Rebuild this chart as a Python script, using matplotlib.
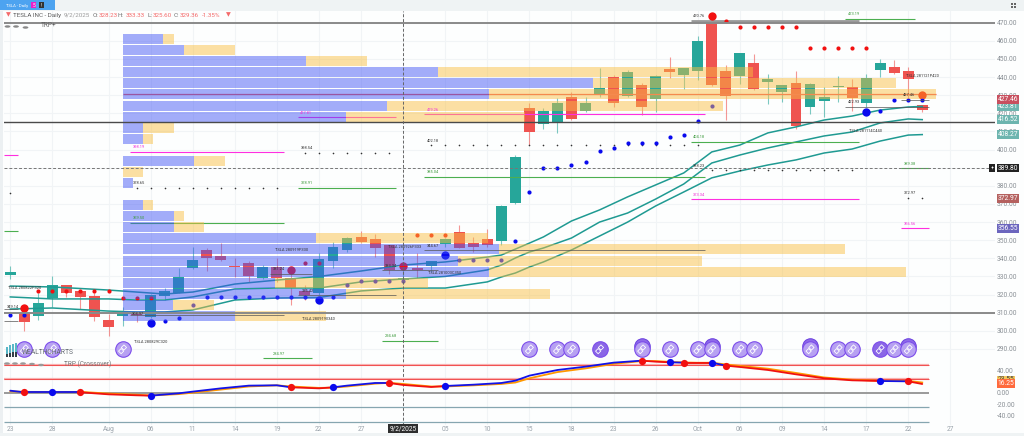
import matplotlib
matplotlib.use("Agg")
import matplotlib.pyplot as plt
from matplotlib.patches import Rectangle, Circle

plt.rcParams['font.family'] = ['Roboto', 'DejaVu Sans']

# ---------- candles (trading-day index = list position)
opens = [330.6,310.0,308.3,317.9,325.1,321.8,319.4,306.0,308.3,309.3,307.6,319.2,321.0,334.5,344.6,341.3,335.8,337.2,329.3,335.4,329.0,322.0,321.0,338.7,
         344.6,351.6,350.7,347.2,328.23,334.8,335.8,347.7,354.3,348.3,350.7,349.7,370.7,423.1,414.1,415.4,428.8,421.5,430.8,439.9,429.5,435.4,428.1,444.4,441.1,443.5,
         471.1,443.3,440.6,447.8,437.3,431.6,436.5,423.3,426.6,434.5,434.5,425.5,443.7,445.7,443.5,424.4]
highs = [335.8,312.4,321.0,330.2,325.5,322.5,320.7,309.1,313.3,309.7,320.3,323.4,334.9,346.4,345.5,348.3,340.0,338.7,336.3,340.0,333.6,325.3,342.8,349.2,
         351.6,355.3,353.4,347.4,333.33,343.1,338.3,351.0,358.4,352.0,356.0,369.5,397.0,425.5,422.7,428.3,431.9,429.2,444.8,441.1,443.9,436.5,441.1,451.3,444.9,462.7,
         471.5,446.7,453.5,452.5,441.7,435.6,443.4,436.5,434.3,440.6,438.9,441.7,449.8,449.4,445.7,424.6]
lows = [328.4,299.9,306.0,313.0,318.5,311.9,305.6,297.3,302.7,305.1,306.9,317.0,320.7,334.1,333.0,338.7,329.9,327.1,328.4,327.1,314.2,317.0,319.8,334.5,
        343.7,348.3,340.9,331.2,325.60,329.0,332.6,346.4,345.5,343.3,346.4,347.4,370.0,402.5,411.2,409.3,416.3,420.9,429.2,423.7,429.2,419.1,420.9,439.3,433.2,438.4,
        435.1,416.3,436.2,432.9,425.1,426.4,411.2,419.6,417.8,426.0,421.3,423.7,440.2,441.7,427.3,420.7]
closes = [332.3,305.1,315.5,325.1,321.0,318.5,307.8,302.3,310.0,308.7,319.8,322.0,329.5,338.9,340.4,339.1,335.0,330.2,335.0,329.0,323.4,319.6,339.8,346.4,
          351.4,349.2,345.9,333.6,329.36,333.6,338.3,350.7,345.9,346.4,347.4,368.9,395.7,409.9,421.5,425.9,416.7,425.9,434.2,425.9,443.0,423.3,440.4,443.0,444.8,459.7,
          435.6,429.5,453.5,433.2,438.8,435.6,413.2,436.0,429.2,435.1,428.3,439.3,447.6,442.4,438.8,422.0]

tick_idx = [0,3,7,10,13,16,19,22,25,28,31,34,37,40,43,46,49,52,55,58,61,64,67]
tick_lab = ['23','28','Aug','06','11','14','19','22','27','','05','10','15','18','23','26','Oct','06','09','14','17','22','27']
price_ticks = list(range(290, 480, 10))

# ---------- moving averages
ma_x = [0,3,7,9,11,13,16,19,22,25,28,31,34,35,36,37,38,40,42,44,46,48,50,52,54,56,58,60,62,64,65]
ma_a = [324.7,324.2,322.5,321.4,320.3,321.4,325.8,328,330,333,336.3,338,340.7,341.8,345.1,348.4,351.8,360.6,366.7,373.9,380.5,387.1,398.7,402.5,409.2,412.5,416.3,418.5,421.8,423.5,423.81]
ma_b = [318.7,317.6,317.6,317,317,318.7,323.1,323.6,323.6,327,328.6,330,333.6,336.3,340.2,343.5,345.7,351.2,360,365,372.7,381,392.6,397,400.9,404.2,407.5,409.7,414.7,416.9,416.52]
ma_c = [312,312.6,310.9,310.4,310.4,311.5,317,318.1,318.4,322,323.6,323.6,327,329.7,331.9,335.2,338,344.6,352.3,360,368.9,376.6,384.4,388.2,391.5,394.3,398.1,400.3,404.7,408,408.27]

# ---------- volume profile
vp_price = [461.0,454.9,448.8,442.7,436.5,430.4,424.3,418.2,412.1,406.0,399.9,393.8,387.6,381.5,375.4,369.3,363.2,357.1,351.0,344.9,338.7,332.6,326.5,320.4,314.3,308.2]
vp_blue = [40,61,183,315,470,366,264,223,20,20,0,71,0,10,0,20,51,51,193,376,335,366,152,223,50,112]
vp_total = [51,112,244,630,773,813,600,402,51,30,0,102,20,10,0,30,61,81,365,722,579,783,305,427,91,203]

# ---------- dots
red_x = [2,3,4,5,6,7,8,9,10,21,22,29,30,31,51,52,53,54,55,56,57,58,59,60,61]
red_y = [322,322,322,322,322,322,318,318,318,337.3,337.3,353,353,353,471.1,467.6,467.6,467.6,467.6,467.6,455.9,455.9,455.9,455.9,455.9]
bigred_x = [1,20,28,50,65]
bigred_y = [312.8,333.6,336,473.7,430]
blue_x = [0,1,11,12,13,14,15,16,17,18,19,20,21,23,24,25,26,27,28,32,33,34,35,36,37,38,39,40,41,42,43,44,45,46,47,48,49,50,62,63,64,65]
blue_y = [308.7,308.7,305.4,307.2,314.4,318.5,318.5,318.5,318.5,318.5,318.5,318.5,318.5,318.8,325.3,327.3,327.3,327.3,327.3,339,339,339,339,349.6,376.4,389.8,389.8,391.5,393,399,401,403.8,403.8,403.8,407,408,415.8,424.2,421.5,427.2,427.2,427.2]
bigblue_x = [10,22,31,61]
bigblue_y = [304.2,317,342,420.9]
black_x = [0,9,10,11,12,13,14,15,16,17,18,19,21,22,23,24,25,26,27,30,31,32,33,34,35,36,37,38,39,40,41,42,43,44,45,46,47,48,49,50,51,52,53,54,55,56,57,58,59,60,64,65]
black_y = [375.9]+[379]*11+[398.3]*7+[402.4]*20+[388.5]*11+[373.3]*2

# ---------- short level lines: start, end, price
magenta_lines = [(-.45,.55,397),(8.5,19.5,398.9),(20.5,27.5,417.8),(29.5,49.5,419.5),(48.5,60.5,372.6),(63.5,65.5,356.6)]
green_lines = [(-.45,.55,355.3),(20.5,27.5,379),(8.5,19.5,359.3),(29.5,49.5,385),(48.5,60.5,404.2),(59.5,64.5,472.2),(63.5,65.5,389.7),(18,21.5,285),(26.5,30.5,294.4)]
dark_lines = [(8.5,19.5,308.9),(20.5,27.5,319.8),(26.5,30.5,333.4),(29.5,49.5,344.6),(18.5,21.5,331.2),(59.5,65.5,423.7),(63.5,65.5,427.5),(-.45,.55,305.6),(-.45,.55,312)]

# ---------- icons row
icon_x = [1,3,8,37,39,40,42,45,47,49,50,52,53,57,59,60,62,63,64]
icon_double = [45,50,57,64]
icon_dark = [42,62]

# ---------- oscillator
osc_x = [0,1,3,5,7,9,10,12,13,15,17,19,20,22,23,24,26,27,28,30,31,33,35,36,37,39,41,43,45,46,47,48,49,50,51,52,54,56,58,60,62,64,65]
osc_main = [3.6,.7,.7,.7,-2.9,-4.6,-5.2,-1.1,1.9,7.7,12.5,13.1,9.5,7.7,9.5,12.5,17.2,17.2,13.7,10.1,11.9,14.2,17.2,21.3,30.2,40.2,46.1,53.2,56.7,54.9,53.8,53.2,53.2,53.2,47.9,45.5,40.2,32.5,25.5,21.9,20.7,20.1,15.4]
osc_sig = [2.5,1.5,1,1.5,-1.5,-3.5,-5,-2.5,0,5.5,11,13,11,8.5,9,11,16,17.5,15.5,11,11,13,15.5,18,25.5,36.5,43,51,56,56,54.5,53.5,53,53,50,47.5,42.5,35,27,23,21,21,18]
osc_blue_dots = [3,10,23,31,47,50,62]
osc_red_dots = [1,5,20,27,45,48,51,64]
osc_levels_red = [49,23.7]
osc_levels_grey = [-26,-51]

# ---------- price tags
tags = [(423.81,'423.81','#6DB5AF'),(427.46,'427.46','#C8505F'),(416.52,'416.52','#6DB5AF'),(408.27,'408.27','#6DB5AF'),
        (389.80,'389.80','#222222'),(372.97,'372.97','#B5615F'),(356.55,'356.55','#6C66BE')]

W, H = 1024, 436
PAD_L, PAD_R, PAD_T, PAD_B = 4, 995, 11, 425
X0, DX = 10.3, 14.03
Y470, PPU = 22.7, 1.8125
O0, OPU = 392.7, 0.565

fig = plt.figure(figsize=(W/100, H/100), dpi=100, facecolor='#FDFEFE')

def fig_rect(x0, y0, x1, y1, color, **kw):
    fig.add_artist(Rectangle((x0/W, 1-y1/H), (x1-x0)/W, (y1-y0)/H, transform=fig.transFigure, facecolor=color, edgecolor='none', **kw))

def ftext(x, y, s, color='#444444', size=2.9, **kw):
    fig.text(x/W, 1-y/H, s, color=color, fontsize=size, va='center', **kw)

pos = [PAD_L/W, 1-PAD_B/H, (PAD_R-PAD_L)/W, (PAD_B-PAD_T)/H]
ax = fig.add_axes(pos)
ax.set_facecolor('none')
ax.set_xlim((PAD_L-X0)/DX, (PAD_R-X0)/DX)
ax.set_ylim(470-(PAD_B-Y470)/PPU, 470-(PAD_T-Y470)/PPU)
for s in ax.spines.values():
    s.set_visible(False)
ax.set_xticks(tick_idx)
ax.set_xticklabels(tick_lab)
ax.set_yticks(price_ticks)
ax.set_yticklabels([f'{p:.2f}' for p in price_ticks])
ax.yaxis.tick_right()
ax.tick_params(axis='x', length=0, pad=0.6, labelsize=4.8, labelcolor='#9AA3AB')
ax.tick_params(axis='y', length=0, pad=1.5, labelsize=4.9, labelcolor='#8A9096')
ax.grid(True, color='#F1F4F6', lw=0.8)
ax.set_axisbelow(True)

# candles
TEAL, RED = '#26A69A', '#EF5350'
for i, (o, h, l, c) in enumerate(zip(opens, highs, lows, closes)):
    col = TEAL if c >= o else RED
    ax.vlines(i, l, h, color=col, lw=0.8, alpha=0.6, zorder=2)
    ax.bar(i, abs(c-o), bottom=min(o, c), width=0.78, color=col, zorder=2.1)

# averages
for ma in (ma_a, ma_b, ma_c):
    ax.plot(ma_x, ma, color='#1F9A92', lw=1.1, zorder=2.3)

# short levels
for a, b, p in magenta_lines:
    ax.hlines(p, a, b, color='#FF2FE0', lw=0.8, zorder=2.4)
for a, b, p in green_lines:
    ax.hlines(p, a, b, color='#4CAF50', lw=0.8, zorder=2.4)
ax.hlines(470.8, 48.5, 60.5, color='#999999', lw=2, zorder=2.4)
for a, b, p in dark_lines:
    ax.hlines(p, a, b, color='#555555', lw=0.5, zorder=5)
ax.hlines(430.5, 8.03, 65.95, color='#F05A5A', lw=0.9, zorder=2.4)

# dots
ax.scatter(black_x, black_y, s=1.4, color='#333333', zorder=3, lw=0)
ax.scatter(red_x, red_y, s=9, color='#F21010', zorder=3, lw=0)
ax.scatter(bigred_x, bigred_y, s=36, color='#F21010', zorder=3, lw=0)
ax.scatter(blue_x, blue_y, s=9, color='#0A0AEE', zorder=3, lw=0)
ax.scatter(bigblue_x, bigblue_y, s=36, color='#0A0AEE', zorder=3, lw=0)

# volume profile, on top with transparency
vp_left = (123-X0)/DX
for p, b, t in zip(vp_price, vp_blue, vp_total):
    if b:
        ax.barh(p, b/DX, left=vp_left, height=5.5, color='#3D51F5', alpha=0.47, lw=0, zorder=4)
    if t > b:
        ax.barh(p, (t-b)/DX, left=vp_left+b/DX, height=5.5, color='#F9BF41', alpha=0.48, lw=0, zorder=4)

# heavy horizontal levels
ax.axhline(470, color='#8A8A8A', lw=1.4, zorder=5)
ax.axhline(415.1, color='#4A4A4A', lw=1.0, zorder=5)
ax.axhline(310, color='#8A8A8A', lw=1.4, zorder=5)

# crosshair
ax.axhline(389.8, color='#777777', lw=0.7, ls=(0, (3, 2)), zorder=6)
ax.axvline(28, color='#666666', lw=0.7, ls=(0, (3, 2)), zorder=6)

# icons row
icon_price = 289.8
for i in icon_x:
    if i in icon_double:
        ax.scatter(i, icon_price+1.6, s=125, color='#8E6AE8', edgecolor='#6A3FE0', lw=0.7, zorder=7)
    face = '#8A66E6' if i in icon_dark else '#B7A1F2'
    ax.scatter(i, icon_price, s=125, color=face, edgecolor='#7C4DEB', lw=0.8, zorder=7.1)
    ax.scatter(i-0.10, icon_price-1, s=7, marker='D', facecolor='none', edgecolor='white', lw=0.6, zorder=7.2)
    ax.scatter(i+0.10, icon_price+1, s=7, marker='D', facecolor='none', edgecolor='white', lw=0.6, zorder=7.2)

# tags on the price scale
for p, s, col in tags:
    ax.text(1.0025, p, s, transform=ax.get_yaxis_transform(), fontsize=4.9, color='white', va='center', ha='left', zorder=10, clip_on=False,
            bbox=dict(boxstyle='square,pad=0.12', facecolor=col, edgecolor='none'))

# oscillator pane
axo = fig.add_axes(pos, sharex=ax)
axo.set_facecolor('none')
axo.set_ylim((O0-PAD_B)/OPU, (O0-PAD_T)/OPU)
for s in axo.spines.values():
    s.set_visible(False)
axo.set_yticks([40, 0, -20, -40])
axo.set_yticklabels(['40.00', '0.00', '-20.00', '-40.00'])
axo.yaxis.tick_right()
axo.tick_params(axis='y', length=0, pad=1.5, labelsize=4.9, labelcolor='#8A9096')
axo.tick_params(axis='x', length=0, labelbottom=False)
for v in osc_levels_red:
    axo.hlines(v, -0.45, 65.5, color='#F8B0B0', lw=1.6, zorder=1)
    axo.hlines(v, -0.45, 65.5, color='#F04040', lw=0.6, zorder=1.1)
axo.hlines(0, -0.45, 65.5, color='#9A9A9A', lw=1.4, zorder=1)
for v in osc_levels_grey:
    axo.hlines(v, -0.45, 65.5, color='#86A6B0', lw=0.9, zorder=1)
axo.plot(osc_x, osc_sig, color='#FF9800', lw=1.3, zorder=2)
switches = [(0,1,'b'),(1,3,'b'),(3,5,'b'),(5,10,'r'),(10,20,'b'),(20,23,'r'),(23,27,'b'),(27,31,'r'),(31,45,'b'),(45,47,'r'),(47,48,'b'),(48,50,'r'),(50,51,'b'),(51,62,'r'),(62,64,'b'),(64,65,'r')]
for a, b, c in switches:
    xs = [x for x in osc_x if a <= x <= b]
    ys = [osc_main[osc_x.index(x)] for x in xs]
    axo.plot(xs, ys, color='#1212E8' if c == 'b' else '#F01010', lw=1.3, zorder=3, solid_capstyle='round')
axo.scatter(osc_blue_dots, [osc_main[osc_x.index(i)] for i in osc_blue_dots], s=27, color='#0A0AEE', lw=0, zorder=4)
axo.scatter(osc_red_dots, [osc_main[osc_x.index(i)] for i in osc_red_dots], s=27, color='#F21010', lw=0, zorder=4)
axo.text(1.0025, 22.5, '23.55', transform=axo.get_yaxis_transform(), fontsize=4.9, color='#444444', va='center', ha='left', clip_on=False, zorder=9,
         bbox=dict(boxstyle='square,pad=0.12', facecolor='#F6C75A', edgecolor='none'))
axo.text(1.0025, 16.25, '16.25', transform=axo.get_yaxis_transform(), fontsize=4.9, color='white', va='center', ha='left', clip_on=False, zorder=10,
         bbox=dict(boxstyle='square,pad=0.12', facecolor='#FF6A3D', edgecolor='none'))

# chrome
fig_rect(0, 0, 1024, 11, '#EFF3F4')
fig_rect(0, 11, 3, 436, '#ECF0F2')
fig_rect(0, 433, 1024, 436, '#EFF3F4')
fig_rect(0, 0, 55, 10, '#4DA3F0')
fig_rect(31, 2.5, 36, 8, '#E81FCB')
fig_rect(39, 2.5, 44, 8, '#333333')
ftext(5.5, 5.5, 'TSLA - Daily', color='white', size=3.0)
ftext(32.4, 5.2, '5', color='white', size=3.4)
ftext(41, 5.2, '!', color='white', size=3.4)
fig_rect(1011, 3, 1013, 5, '#666666')
fig_rect(1014, 3, 1016, 5, '#666666')
fig_rect(1011, 6, 1013, 8, '#666666')
fig_rect(1014, 6, 1016, 8, '#666666')

GREY, TRED = '#707070', '#F46A6A'
header = [(6,'▼',TRED),(13,'TESLA INC - Daily','#5A5A5A'),(64,'9/2/2025','#9A9A9A'),(92.7,'O:',GREY),(98.7,'328.23',TRED),(118,'H:',GREY),(126,'333.33',TRED),
          (147,'L:',GREY),(152.7,'325.60',TRED),(173.7,'C:',GREY),(179.7,'329.36',TRED),(202,'-1.35%',TRED),(226,'▼',TRED)]
for x, s, c in header:
    ftext(x, 15.2, s, color=c, size=4.5)

ftext(41, 25.5, 'TRP+', color='#666666', size=4.7)
ftext(64, 364, 'TRP (Crossover)', color='#777777', size=4.7)
ftext(22, 352.5, 'WEALTHCHARTS', color='#656B73', size=4.9)
for x, h_, c in [(6,7,'#59B7C7'),(9,9,'#59B7C7'),(12,10,'#59B7C7'),(15,11,'#59B7C7')]:
    fig_rect(x, 354-h_, x+2.4, 354, c)
for x, h_ in [(6,3),(9,4),(12,5),(15,5)]:
    fig_rect(x, 357-h_+0, x+2.4, 357, '#333F48')

for x, y in [(7.5,26.5),(16,26.5),(25.5,27.5)]:
    fig.add_artist(Circle((x/W, 1-y/H), 0.0028, transform=fig.transFigure, facecolor='#888888', edgecolor='none'))
for x, y in [(7,363.5),(15,363.5),(23,363.5),(32,364),(41,365)]:
    fig.add_artist(Circle((x/W, 1-y/H), 0.0028, transform=fig.transFigure, facecolor='#999999', edgecolor='none'))

labels = [(8,288,'TSLA 280822P320','#333333'),(7,307,'349.14','#333333'),(134,342,'TSLA 280829C320','#333333'),(302,318.7,'TSLA 2809190340','#333333'),
          (275,250,'TSLA 280919P330','#333333'),(388,246.7,'TSLA 280926P333','#333333'),(428,273,'TSLA 281003C350','#333333'),(906,75.7,'TSLA 281121P420','#333333'),
          (849,130.7,'TSLA 281114C440','#333333'),(273,269,'331.24','#333333'),(302,290.7,'335.42','#333333'),(385,266,'333.34','#333333'),(427,245.7,'344.67','#333333'),
          (132,314,'308.97','#333333'),(693,16,'470.76','#333333'),(848,14,'473.19','#3C9A3C'),(693,137,'404.18','#3C9A3C'),(693,166,'388.23','#333333'),
          (693,194.7,'373.34','#F02FD8'),(848,102,'422.93','#333333'),(903,95,'427.46','#333333'),(904,163.7,'389.38','#3C9A3C'),(904,193,'372.97','#333333'),
          (904,224,'356.56','#F02FD8'),(133,147,'398.19','#F02FD8'),(301,148,'398.54','#333333'),(300,112.7,'417.81','#F02FD8'),(133,183,'378.65','#333333'),
          (301,183,'378.91','#3C9A3C'),(133,218,'359.50','#3C9A3C'),(427,110,'419.26','#F02FD8'),(427,141,'402.18','#333333'),(427,172,'385.04','#3C9A3C'),
          (273,354,'284.97','#3C9A3C'),(385,336,'294.68','#3C9A3C')]
for x, y, s, c in labels:
    ftext(x, y, s, color=c, size=2.9, zorder=20)

# date tag on the axis, plus marker beside the last-price tag
fig.text(403.3/W, 1-428.5/H, '9/2/2025', color='white', fontsize=4.7, ha='center', va='center', zorder=20,
         bbox=dict(boxstyle='square,pad=0.2', facecolor='#2E2E2E', edgecolor='none'))
fig.text(992/W, 1-168.3/H, '+', color='white', fontsize=4.2, ha='center', va='center', zorder=20,
         bbox=dict(boxstyle='square,pad=0.25', facecolor='#222222', edgecolor='none'))

fig.savefig('out.png', dpi=100, facecolor=fig.get_facecolor())
